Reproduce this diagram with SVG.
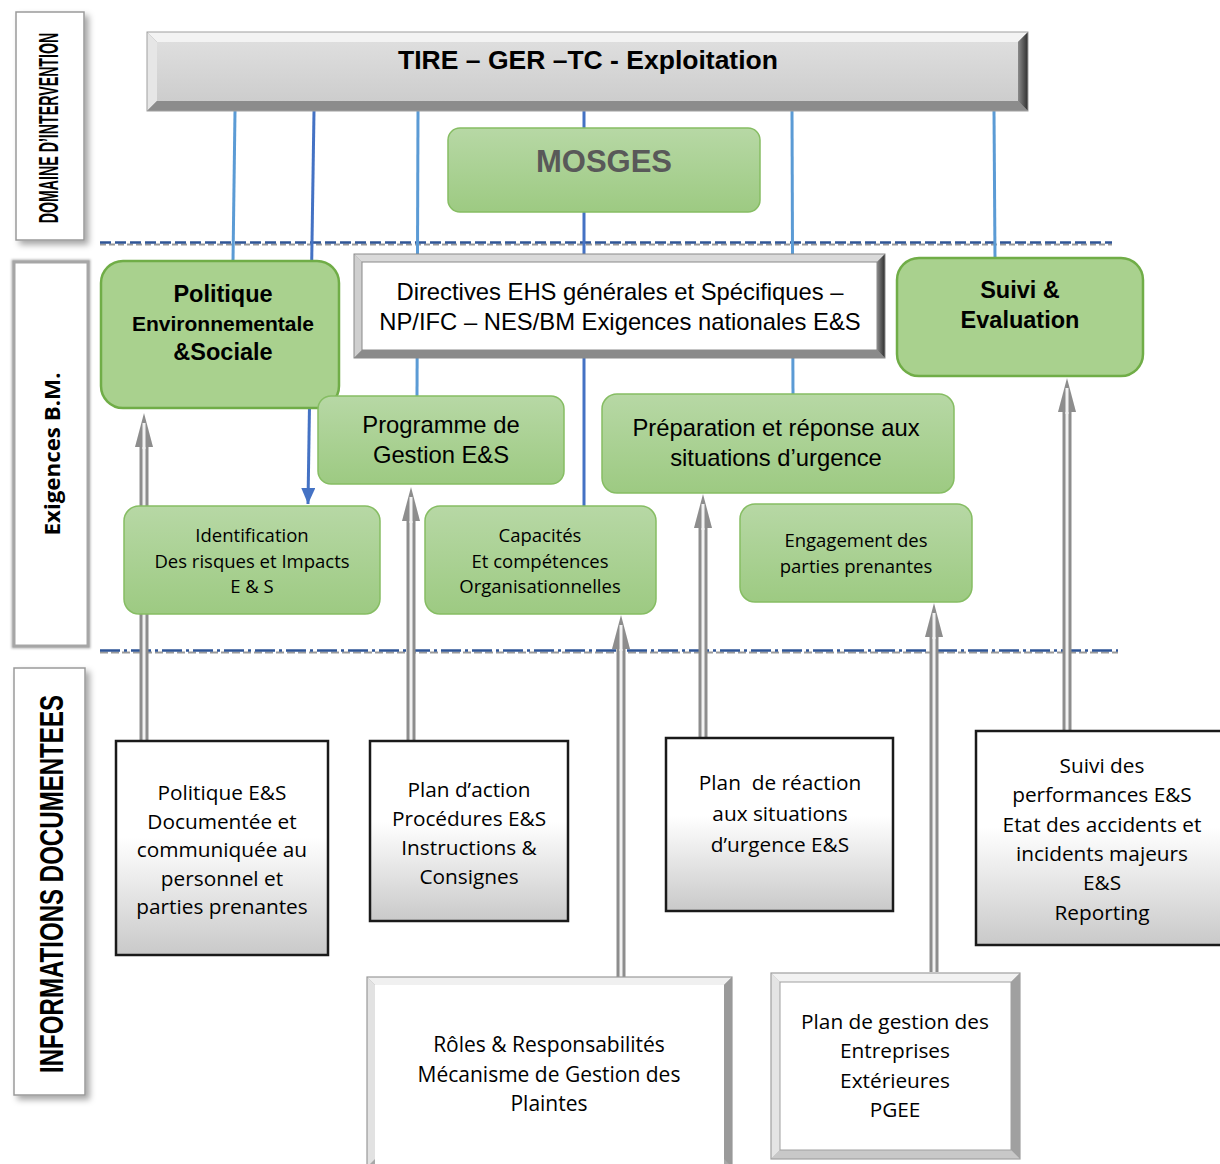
<svg xmlns="http://www.w3.org/2000/svg" width="1220" height="1164" viewBox="0 0 1220 1164">
<defs>
  <style>
    .ar{font-family:"Liberation Sans",Arial,sans-serif;fill:#000}
    .os{font-family:"Open Sans","Noto Sans",sans-serif;fill:#000}
    .b{font-weight:bold}
    .lbl{fill:#fff;stroke:#9a9a9a;stroke-width:1.5}
    .big{fill:#a9d18e;stroke:#70ad47;stroke-width:2.5}
    .sm{fill:url(#gGreen);stroke:#86bd63;stroke-width:1.5}
    .doc{fill:url(#gDoc);stroke:#1a1a1a;stroke-width:2.5}
    .bl1{stroke:#5b9bd5;stroke-width:3;fill:none}
    .bl2{stroke:#4472c4;stroke-width:3;fill:none}
    .sh-o{stroke:#8d8d8d;stroke-width:9;fill:none}
    .sh-i{stroke:#f2f2f2;stroke-width:3;fill:none}
  </style>
  <linearGradient id="gGreen" x1="0" y1="0" x2="0" y2="1">
    <stop offset="0" stop-color="#b7d8a5"/>
    <stop offset="1" stop-color="#9dca82"/>
  </linearGradient>
  <linearGradient id="gDoc" x1="0" y1="0" x2="0" y2="1">
    <stop offset="0" stop-color="#ffffff"/>
    <stop offset="0.45" stop-color="#ffffff"/>
    <stop offset="1" stop-color="#c9c9c9"/>
  </linearGradient>
  <linearGradient id="gBar" x1="0" y1="0" x2="0" y2="1">
    <stop offset="0" stop-color="#dedede"/>
    <stop offset="1" stop-color="#cdcdcd"/>
  </linearGradient>
  <linearGradient id="gRight" x1="0" y1="0" x2="1" y2="0">
    <stop offset="0" stop-color="#8a8a8a"/>
    <stop offset="1" stop-color="#2e2e2e"/>
  </linearGradient>
  <filter id="shadow" x="-20%" y="-10%" width="150%" height="130%">
    <feDropShadow dx="4" dy="4" stdDeviation="3" flood-color="#000" flood-opacity="0.35"/>
  </filter>
  <filter id="glow" x="-20%" y="-10%" width="140%" height="120%">
    <feGaussianBlur stdDeviation="1.2"/>
  </filter>
  <marker id="bArrow" markerUnits="userSpaceOnUse" markerWidth="16" markerHeight="14" refX="16" refY="7" orient="auto">
    <path d="M0,0 L16,7 L0,14 z" fill="#4472c4"/>
  </marker>
  <g id="ah">
    <polygon points="0,0 9,34 -9,34" fill="#8d8d8d"/>
    <line x1="0" y1="10" x2="0" y2="36" stroke="#f2f2f2" stroke-width="3"/>
  </g>
</defs>

<rect width="1220" height="1164" fill="#fff"/>

<!-- left label boxes -->
<g id="lbl-domaine">
  <rect class="lbl" x="16" y="12" width="68" height="228" filter="url(#shadow)"/>
  <text class="ar b" transform="translate(58,128) rotate(-90) scale(1,1.9)" text-anchor="middle" font-size="14.2">DOMAINE D’INTERVENTION</text>
</g>
<g id="lbl-exigences">
  <rect x="14" y="262" width="74" height="384" fill="none" stroke="#b5b5b5" stroke-width="5" filter="url(#glow)"/>
  <rect x="14" y="262" width="74" height="384" fill="#fff" stroke="#a6a6a6" stroke-width="3"/>
  <text class="os b" transform="translate(60,454) rotate(-90)" text-anchor="middle" font-size="22" textLength="163" lengthAdjust="spacingAndGlyphs">Exigences B.M.</text>
</g>
<g id="lbl-informations">
  <rect class="lbl" x="14" y="668" width="71" height="427" filter="url(#shadow)"/>
  <text class="ar b" transform="translate(63,884) rotate(-90)" text-anchor="middle" font-size="34" textLength="378" lengthAdjust="spacingAndGlyphs">INFORMATIONS DOCUMENTEES</text>
</g>

<!-- separators -->
<g id="separators">
  <line x1="100" y1="244.5" x2="1112" y2="244.5" stroke="#9a9a9a" stroke-width="2" stroke-dasharray="6 3"/>
  <line x1="100" y1="242.5" x2="1112" y2="242.5" stroke="#2f5597" stroke-width="2.5" stroke-dasharray="11 4"/>
  <line x1="100" y1="652.5" x2="1118" y2="652.5" stroke="#9a9a9a" stroke-width="2" stroke-dasharray="8 3"/>
  <line x1="100" y1="650.5" x2="1118" y2="650.5" stroke="#2f5597" stroke-width="2.5" stroke-dasharray="20 4 3 4"/>
</g>

<!-- connectors -->
<g id="connectors">
  <line class="bl1" x1="235" y1="111" x2="233" y2="261"/>
  <line class="bl2" x1="314" y1="111" x2="308" y2="504" marker-end="url(#bArrow)"/>
  <line class="bl1" x1="418" y1="111" x2="417" y2="396"/>
  <line class="bl2" x1="584" y1="111" x2="584" y2="506"/>
  <line class="bl1" x1="792" y1="111" x2="793" y2="394"/>
  <line class="bl1" x1="994" y1="111" x2="995" y2="258"/>

  <line class="sh-o" x1="144" y1="445" x2="144" y2="740"/><line class="sh-i" x1="144" y1="445" x2="144" y2="740"/><use href="#ah" x="144" y="413"/>
  <line class="sh-o" x1="411" y1="519" x2="411" y2="740"/><line class="sh-i" x1="411" y1="519" x2="411" y2="740"/><use href="#ah" x="411" y="487"/>
  <line class="sh-o" x1="621" y1="647" x2="621" y2="977"/><line class="sh-i" x1="621" y1="647" x2="621" y2="977"/><use href="#ah" x="621" y="615"/>
  <line class="sh-o" x1="703" y1="526" x2="703" y2="737"/><line class="sh-i" x1="703" y1="526" x2="703" y2="737"/><use href="#ah" x="703" y="494"/>
  <line class="sh-o" x1="934" y1="635" x2="934" y2="972"/><line class="sh-i" x1="934" y1="635" x2="934" y2="972"/><use href="#ah" x="934" y="603"/>
  <line class="sh-o" x1="1067" y1="410" x2="1067" y2="730"/><line class="sh-i" x1="1067" y1="410" x2="1067" y2="730"/><use href="#ah" x="1067" y="378"/>
</g>

<!-- top bar -->
<g id="n-top">
  <rect x="147" y="32" width="881" height="79" fill="#9a9a9a"/>
  <polygon points="147,32 1028,32 1018,42 157,42" fill="#f3f3f3"/>
  <polygon points="147,32 157,42 157,101 147,111" fill="#e6e6e6"/>
  <polygon points="1028,32 1028,111 1018,101 1018,42" fill="url(#gRight)"/>
  <polygon points="147,111 1028,111 1018,101 157,101" fill="#8c8c8c"/>
  <rect x="157" y="42" width="861" height="59" fill="url(#gBar)"/>
  <rect x="147" y="32" width="881" height="79" fill="none" stroke="#a0a0a0" stroke-width="1"/>
  <text class="ar b" x="588" y="69" text-anchor="middle" font-size="26.5">TIRE – GER –TC - Exploitation</text>
</g>

<g id="n-mosges">
  <rect class="sm" x="448" y="128" width="312" height="84" rx="12"/>
  <text class="ar b" x="604" y="172" text-anchor="middle" font-size="31" style="fill:#595959">MOSGES</text>
</g>

<g id="n-politique">
  <rect class="big" x="101" y="261" width="238" height="147" rx="22"/>
  <text class="ar b" text-anchor="middle"><tspan x="223" y="302" font-size="23.5">Politique</tspan><tspan x="223" y="331" font-size="21">Environnementale</tspan><tspan x="223" y="360" font-size="23.5">&amp;Sociale</tspan></text>
</g>

<g id="n-directives">
  <rect x="354" y="254" width="531" height="104" fill="#9a9a9a"/>
  <polygon points="354,254 885,254 877,262 362,262" fill="#dadada"/>
  <polygon points="354,254 362,262 362,350 354,358" fill="#cfcfcf"/>
  <polygon points="885,254 885,358 877,350 877,262" fill="url(#gRight)"/>
  <polygon points="354,358 885,358 877,350 362,350" fill="#8a8a8a"/>
  <rect x="362" y="262" width="515" height="88" fill="#fff" stroke="#8a8a8a" stroke-width="1"/>
  <rect x="354" y="254" width="531" height="104" fill="none" stroke="#8a8a8a" stroke-width="1"/>
  <text class="ar" text-anchor="middle" font-size="23.8"><tspan x="620" y="300">Directives EHS générales et Spécifiques –</tspan><tspan x="620" y="330">NP/IFC – NES/BM Exigences nationales E&amp;S</tspan></text>
</g>

<g id="n-suivi">
  <rect class="big" x="897" y="258" width="246" height="118" rx="22"/>
  <text class="ar b" text-anchor="middle" font-size="23.5"><tspan x="1020" y="298">Suivi &amp;</tspan><tspan x="1020" y="328">Evaluation</tspan></text>
</g>

<g id="n-programme">
  <rect class="sm" x="318" y="396" width="246" height="88" rx="13"/>
  <text class="ar" text-anchor="middle" font-size="23.8"><tspan x="441" y="433">Programme de</tspan><tspan x="441" y="463">Gestion E&amp;S</tspan></text>
</g>

<g id="n-preparation">
  <rect class="sm" x="602" y="394" width="352" height="99" rx="15"/>
  <text class="ar" text-anchor="middle" font-size="23.8"><tspan x="776" y="436">Préparation et réponse aux</tspan><tspan x="776" y="466">situations d’urgence</tspan></text>
</g>

<g id="n-identification">
  <rect class="sm" x="124" y="506" width="256" height="108" rx="15"/>
  <text class="os" text-anchor="middle" font-size="18.5"><tspan x="252" y="542">Identification</tspan><tspan x="252" y="568">Des risques et Impacts</tspan><tspan x="252" y="593">E &amp; S</tspan></text>
</g>

<g id="n-capacites">
  <rect class="sm" x="425" y="506" width="231" height="108" rx="15"/>
  <text class="os" text-anchor="middle" font-size="18.5"><tspan x="540" y="542">Capacités</tspan><tspan x="540" y="568">Et compétences</tspan><tspan x="540" y="593">Organisationnelles</tspan></text>
</g>

<g id="n-engagement">
  <rect class="sm" x="740" y="504" width="232" height="98" rx="15"/>
  <text class="os" text-anchor="middle" font-size="18.5"><tspan x="856" y="547">Engagement des</tspan><tspan x="856" y="573">parties prenantes</tspan></text>
</g>

<!-- document boxes -->
<g id="n-doc-politique">
  <rect class="doc" x="116" y="741" width="212" height="214"/>
  <text class="os" text-anchor="middle" font-size="20.8"><tspan x="222" y="800">Politique E&amp;S</tspan><tspan x="222" y="829">Documentée et</tspan><tspan x="222" y="857">communiquée au</tspan><tspan x="222" y="886">personnel et</tspan><tspan x="222" y="914">parties prenantes</tspan></text>
</g>

<g id="n-doc-plan">
  <rect class="doc" x="370" y="741" width="198" height="180"/>
  <text class="os" text-anchor="middle" font-size="20.8"><tspan x="469" y="797">Plan d’action</tspan><tspan x="469" y="826">Procédures E&amp;S</tspan><tspan x="469" y="855">Instructions &amp;</tspan><tspan x="469" y="884">Consignes</tspan></text>
</g>

<g id="n-doc-reaction">
  <rect class="doc" x="666" y="738" width="227" height="173"/>
  <text class="os" text-anchor="middle" font-size="20.8" xml:space="preserve"><tspan x="780" y="790">Plan  de réaction</tspan><tspan x="780" y="821">aux situations</tspan><tspan x="780" y="852">d’urgence E&amp;S</tspan></text>
</g>

<g id="n-doc-suivi">
  <rect class="doc" x="976" y="731" width="254" height="214"/>
  <text class="os" text-anchor="middle" font-size="20.8"><tspan x="1102" y="773">Suivi des</tspan><tspan x="1102" y="802">performances E&amp;S</tspan><tspan x="1102" y="832">Etat des accidents et</tspan><tspan x="1102" y="861">incidents majeurs</tspan><tspan x="1102" y="890">E&amp;S</tspan><tspan x="1102" y="920">Reporting</tspan></text>
</g>

<g id="n-doc-roles">
  <rect x="367" y="977" width="365" height="190" fill="#a8a8a8"/>
  <polygon points="367,977 732,977 724,985 375,985" fill="#f0f0f0"/>
  <polygon points="367,977 375,985 375,1159 367,1167" fill="#e2e2e2"/>
  <polygon points="732,977 732,1167 724,1159 724,985" fill="#9a9a9a"/>
  <rect x="375" y="985" width="349" height="179" fill="#fff"/>
  <rect x="367" y="977" width="365" height="190" fill="none" stroke="#9a9a9a" stroke-width="1.2"/>
  <text class="os" text-anchor="middle" font-size="21"><tspan x="549" y="1052">Rôles &amp; Responsabilités</tspan><tspan x="549" y="1082">Mécanisme de Gestion des</tspan><tspan x="549" y="1111">Plaintes</tspan></text>
</g>

<g id="n-doc-pgee">
  <rect x="771" y="973" width="249" height="186" fill="#b5b5b5"/>
  <polygon points="771,973 1020,973 1011,982 780,982" fill="#f2f2f2"/>
  <polygon points="771,973 780,982 780,1150 771,1159" fill="#e4e4e4"/>
  <polygon points="1020,973 1020,1159 1011,1150 1011,982" fill="#a0a0a0"/>
  <polygon points="771,1159 1020,1159 1011,1150 780,1150" fill="#c8c8c8"/>
  <rect x="780" y="982" width="231" height="168" fill="#fff" stroke="#a0a0a0" stroke-width="1"/>
  <rect x="771" y="973" width="249" height="186" fill="none" stroke="#a0a0a0" stroke-width="1.2"/>
  <text class="os" text-anchor="middle" font-size="20.8"><tspan x="895" y="1029">Plan de gestion des</tspan><tspan x="895" y="1058">Entreprises</tspan><tspan x="895" y="1088">Extérieures</tspan><tspan x="895" y="1117">PGEE</tspan></text>
</g>
</svg>
